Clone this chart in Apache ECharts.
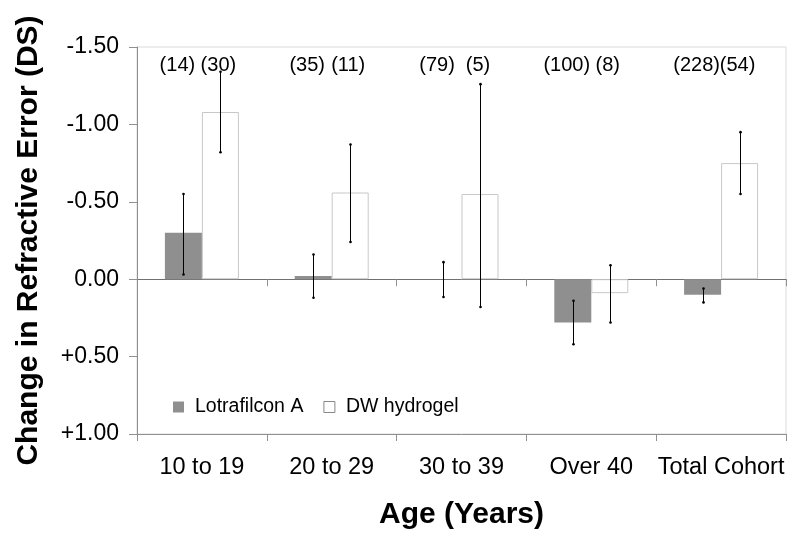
<!DOCTYPE html>
<html>
<head>
<meta charset="utf-8">
<script src="https://cdn.jsdelivr.net/npm/echarts@6/dist/echarts.min.js"></script>
<style>html,body{margin:0;padding:0;background:#fff;}#c{width:800px;height:542px;}</style>
</head>
<body>
<div id="c"></div>
<script>
var categories = ['10 to 19', '20 to 29', '30 to 39', 'Over 40', 'Total Cohort'];
var seriesNames = ['Lotrafilcon A', 'DW hydrogel'];
var lotrafilcon = [-0.30, -0.02, 0.00, 0.28, 0.10];
var dwHydrogel = [-1.08, -0.56, -0.55, 0.09, -0.75];
var lotraErrLow = [-0.55, -0.16, -0.11, 0.14, 0.06];
var lotraErrHigh = [-0.03, 0.12, 0.115, 0.42, 0.15];
var dwErrLow = [-1.34, -0.87, -1.26, -0.09, -0.95];
var dwErrHigh = [-0.82, -0.24, 0.18, 0.28, -0.55];
var lotraN = ['(14)', '(35)', '(79)', '(100)', '(228)'];
var dwN = ['(30)', '(11)', '(5)', '(8)', '(54)'];
var yMin = -1.5, yMax = 1.0, yStep = 0.5;

var FONT = '"Liberation Sans", Arial, sans-serif';
var GAP = 0.43;

function barOffset(api, which) {
  var band = api.size([1, 0])[0];
  var w = band * (1 - GAP) / 2;
  return which === 0 ? -w / 2 : w / 2;
}

function errRender(which) {
  return function (params, api) {
    var idx = api.value(0);
    var off = barOffset(api, which);
    var p1 = api.coord([idx, api.value(1)]);
    var p2 = api.coord([idx, api.value(2)]);
    var x = Math.round(p1[0] + off) + 0.5;
    var st = { stroke: '#000', lineWidth: 1 };
    return {
      type: 'group',
      children: [
        { type: 'line', shape: { x1: x, y1: p1[1], x2: x, y2: p2[1] }, style: st },
        { type: 'circle', shape: { cx: x, cy: p1[1], r: 1.3 }, style: { fill: '#000' } },
        { type: 'circle', shape: { cx: x, cy: p2[1], r: 1.3 }, style: { fill: '#000' } }
      ]
    };
  };
}

function labelRender(which, texts) {
  return function (params, api) {
    var idx = api.value(0);
    var off = barOffset(api, which);
    var p = api.coord([idx, yMin]);
    return {
      type: 'text',
      x: p[0] + off + (which === 0 ? -6 : -2),
      y: p[1] + 18,
      style: {
        text: texts[params.dataIndex],
        fill: '#000',
        font: '20px ' + FONT,
        align: 'center',
        verticalAlign: 'middle'
      }
    };
  };
}

function errData(lo, hi) {
  return categories.map(function (c, i) { return [i, lo[i], hi[i]]; });
}
function labData() {
  return categories.map(function (c, i) { return [i, yMin]; });
}

var chart = echarts.init(document.getElementById('c'), null, { renderer: 'canvas' });
chart.setOption({
  animation: false,
  backgroundColor: '#fff',
  grid: { left: 137, right: 14, top: 47, bottom: 108, show: true, borderColor: '#d9d9d9', borderWidth: 1, containLabel: false },
  legend: {
    left: 168, top: 392,
    itemWidth: 11, itemHeight: 11, itemGap: 20,
    icon: 'rect',
    textStyle: { fontFamily: FONT, fontSize: 19.5, color: '#000', padding: [0, 0, 0, 6] },
    data: [
      { name: seriesNames[0] },
      { name: seriesNames[1], itemStyle: { color: '#fff', borderColor: '#888', borderWidth: 1 } }
    ]
  },
  xAxis: [
    {
      type: 'category', data: categories,
      axisLine: { onZero: true, lineStyle: { color: '#707070', width: 1 } },
      axisTick: { show: true, length: 7, lineStyle: { color: '#909090' } },
      axisLabel: { show: false },
      splitLine: { show: false }
    },
    {
      type: 'category', data: categories, position: 'bottom',
      axisLine: { onZero: false, lineStyle: { color: '#909090', width: 1 } },
      axisTick: { show: true, length: 7, lineStyle: { color: '#909090' } },
      axisLabel: { color: '#000', fontFamily: FONT, fontSize: 23.5, margin: 22, interval: 0 },
      name: 'Age (Years)', nameLocation: 'middle', nameGap: 66,
      nameTextStyle: { color: '#000', fontFamily: FONT, fontSize: 30, fontWeight: 'bold' }
    }
  ],
  yAxis: {
    type: 'value', inverse: true, min: yMin, max: yMax, interval: yStep,
    axisLine: { show: true, lineStyle: { color: '#909090' } },
    axisTick: { show: true, length: 8, lineStyle: { color: '#909090' } },
    splitLine: { show: false },
    axisLabel: {
      color: '#000', fontFamily: FONT, fontSize: 23, margin: 18,
      formatter: function (v) {
        if (Math.abs(v) < 1e-9) return '0.00';
        return (v > 0 ? '+' : '') + v.toFixed(2);
      }
    },
    name: 'Change in Refractive Error (DS)', nameLocation: 'middle', nameGap: 93,
    nameTextStyle: { color: '#000', fontFamily: FONT, fontSize: 30, fontWeight: 'bold' }
  },
  series: [
    {
      name: seriesNames[0], type: 'bar', data: lotrafilcon,
      barGap: '0%', barCategoryGap: '43%',
      itemStyle: { color: '#8f8f8f' }
    },
    {
      name: seriesNames[1], type: 'bar', data: dwHydrogel,
      barGap: '0%', barCategoryGap: '43%',
      itemStyle: { color: '#fff', borderColor: '#c8c8c8', borderWidth: 1 }
    },
    { type: 'custom', renderItem: errRender(0), data: errData(lotraErrLow, lotraErrHigh), z: 5, silent: true },
    { type: 'custom', renderItem: errRender(1), data: errData(dwErrLow, dwErrHigh), z: 5, silent: true },
    { type: 'custom', renderItem: labelRender(0, lotraN), data: labData(), z: 6, silent: true },
    { type: 'custom', renderItem: labelRender(1, dwN), data: labData(), z: 6, silent: true }
  ]
});
</script>
</body>
</html>
